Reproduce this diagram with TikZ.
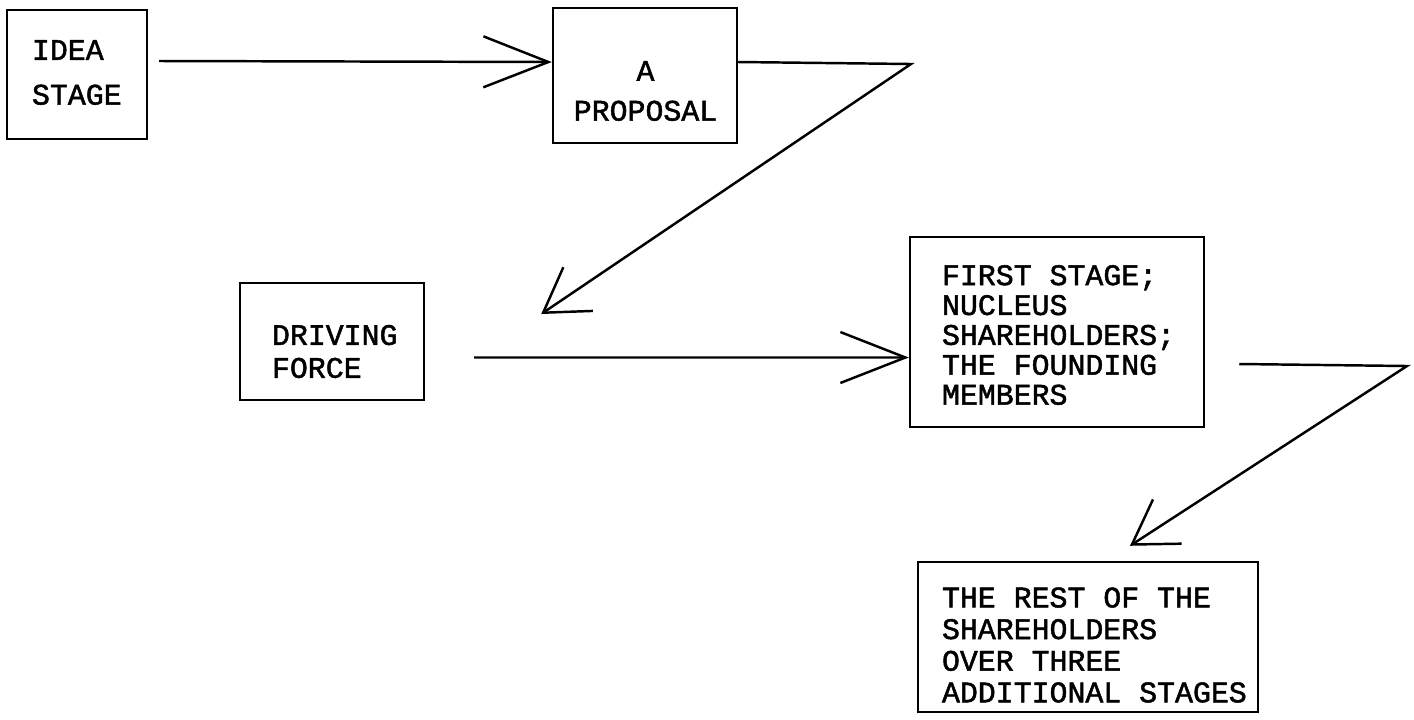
\documentclass[tikz,border=0pt]{standalone}
\usepackage{fontspec}
\newfontfamily\typefont[FakeBold=1.6]{Liberation Mono}
\usetikzlibrary{arrows.meta,fit}

\tikzset{
  stagebox/.style={draw, line width=1.4pt, inner sep=0pt},
  stagetext/.style={inner sep=0pt, align=left, font=\typefont\fontsize{17}{#1}\selectfont},
  flat tip/.style={-{Straight Barb[length=37pt,width=29pt]}},
  slant tip/.style={-{Straight Barb[length=24pt,width=30pt]}},
}

\begin{document}
\begin{tikzpicture}[x=0.2mm, y=-0.2mm, line width=1.4pt]
\useasboundingbox (0,0) rectangle (1414,719);
% boxes
\node[stagebox, fit={(7,10) (147,139)}] (idea) {};
\node[stagebox, fit={(553,8) (737,143)}] (prop) {};
\node[stagebox, fit={(240,283) (424,400)}] (drive) {};
\node[stagebox, fit={(910,237) (1204,427)}] (first) {};
\node[stagebox, fit={(918,562) (1258,712)}] (rest) {};
% texts
\node[stagetext=25.5, anchor=west] (ideatext) at ([shift={(25,-2)}]idea.west) {IDEA\\STAGE};
\node[stagetext=22.7, align=center] (proptext) at ([shift={(0.5,15.5)}]prop.center) {A\\PROPOSAL};
\node[stagetext=18.7, anchor=west] (drivetext) at ([shift={(32,10)}]drive.west) {DRIVING\\FORCE};
\node[stagetext=17, anchor=west] (firsttext) at ([shift={(32,3)}]first.west)
  {FIRST STAGE;\\NUCLEUS\\SHAREHOLDERS;\\THE FOUNDING\\MEMBERS};
\node[stagetext=18, anchor=west] (resttext) at ([shift={(24,8)}]rest.west)
  {THE REST OF THE\\SHAREHOLDERS\\OVER THREE\\ADDITIONAL STAGES};
% connectors
\coordinate (bend1) at (911,64);
\coordinate (bend2) at (1407,366);
\draw[flat tip] ([shift={(11,-13.5)}]idea.east) -- ([shift={(0,-13.5)}]prop.west);
\draw[slant tip] ([shift={(0,-13.5)}]prop.east) -- (bend1) -- ([shift={(116,-27.5)}]drive.east);
\draw[flat tip] ([shift={(49,16)}]drive.east) -- ([shift={(0,25.5)}]first.west);
\draw[slant tip] ([shift={(34,32)}]first.east) -- (bend2) -- ([shift={(42,-15)}]rest.north);
\end{tikzpicture}
\end{document}
